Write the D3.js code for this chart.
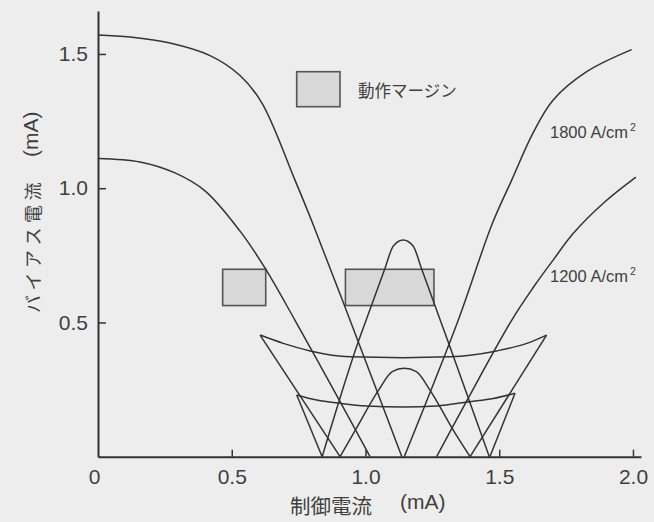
<!DOCTYPE html>
<html>
<head>
<meta charset="utf-8">
<script src="https://cdn.jsdelivr.net/npm/d3@7"></script>
<style>
  html, body { margin: 0; padding: 0; background: #ededed; }
  svg { display: block; }
</style>
</head>
<body>
<svg id="chart" width="654" height="522"></svg>
<script>
// Threshold characteristics of the gate: bias current vs. control current (mA)

const xTickValues = [0, 0.5, 1.0, 1.5, 2.0];
const yTickValues = [0.5, 1.0, 1.5];

// 1800 A/cm^2 : outer lobes and middle lobe
const lobe1800Left = [[0, 1.571], [0.12, 1.563], [0.269, 1.541], [0.419, 1.494], [0.531, 1.420],
  [0.613, 1.317], [0.736, 1.031], [0.805, 0.863], [0.973, 0.428], [1.136, 0]];
const lobe1800Right = [[1.145, 0], [1.347, 0.509], [1.472, 0.863], [1.547, 1.031], [1.626, 1.205],
  [1.701, 1.328], [1.827, 1.434], [1.995, 1.516]];
const mid1800 = [[0.838, 0], [0.973, 0.428], [1.023, 0.565], [1.073, 0.702], [1.104, 0.785],
  [1.141, 0.807], [1.178, 0.785], [1.209, 0.702], [1.259, 0.565], [1.309, 0.428], [1.463, 0]];

// 1200 A/cm^2 : outer lobes and middle lobe
const lobe1200Left = [[0, 1.111], [0.157, 1.098], [0.288, 1.057], [0.40, 0.990], [0.531, 0.840],
  [0.624, 0.703], [0.736, 0.509], [0.905, 0.205], [1.017, 0]];
const lobe1200Right = [[1.266, 0], [1.377, 0.205], [1.547, 0.509], [1.627, 0.63], [1.702, 0.733],
  [1.777, 0.832], [1.889, 0.944], [2.011, 1.041]];
const mid1200 = [[0.905, 0], [0.962, 0.099], [1.049, 0.248], [1.10, 0.317], [1.145, 0.329],
  [1.19, 0.317], [1.241, 0.248], [1.328, 0.099], [1.391, 0]];

// shallow arcs and their straight end lines
const upperArc = [[0.606, 0.453], [0.693, 0.422], [0.793, 0.394], [0.942, 0.372], [1.141, 0.369],
  [1.316, 0.372], [1.490, 0.394], [1.603, 0.422], [1.677, 0.453]];
const upperArcEnds = [[[0.606, 0.453], [0.905, 0]], [[1.677, 0.453], [1.391, 0]]];
const lowerArc = [[0.743, 0.230], [0.818, 0.211], [0.905, 0.199], [1.004, 0.189], [1.141, 0.185],
  [1.266, 0.189], [1.391, 0.205], [1.478, 0.217], [1.559, 0.236]];
const lowerArcEnds = [[[0.743, 0.230], [0.838, 0]], [[1.559, 0.236], [1.465, 0]]];

// operating margin boxes: [x0, x1, yLow, yHigh]
const marginBoxes = [[0.466, 0.627, 0.563, 0.698], [0.925, 1.256, 0.563, 0.698]];

const densityLabels = ["1800", "1200"];
const legendLabel = "動作マージン";
const xTitle = ["制御電流", "(mA)"];
const yTitle = ["バイアス電流", "(mA)"];

const ink = "#333";
const textInk = "#3f3f3f";
const latin = "'Liberation Sans', Arial, Helvetica, sans-serif";
const cjk = "'Noto Sans CJK JP', 'Noto Sans CJK SC', sans-serif";

const svg = d3.select("#chart");
svg.append("rect").attr("width", 654).attr("height", 522).attr("fill", "#ededed");

const x = d3.scaleLinear().domain([0, 2.03]).range([98, 641]);
const y = d3.scaleLinear().domain([0, 1.66]).range([456.7, 11]);

// margin boxes (drawn under the curves)
svg.append("g").selectAll("rect").data(marginBoxes).join("rect")
  .attr("x", d => x(d[0])).attr("y", d => y(d[3]))
  .attr("width", d => x(d[1]) - x(d[0])).attr("height", d => y(d[2]) - y(d[3]))
  .attr("fill", "#d8d8d8").attr("stroke", "#555").attr("stroke-width", 1.6);

const lobeLine = d3.line().x(d => x(d[0])).y(d => y(d[1])).curve(d3.curveCatmullRom.alpha(0.5));
const smooth = d3.line().x(d => x(d[0])).y(d => y(d[1])).curve(d3.curveMonotoneX);
const straight = d3.line().x(d => x(d[0])).y(d => y(d[1]));

const curves = svg.append("g").attr("fill", "none").attr("stroke", ink)
  .attr("stroke-width", 1.5).attr("stroke-linejoin", "round");
[lobe1800Left, lobe1800Right, lobe1200Left, lobe1200Right]
  .forEach(c => curves.append("path").attr("d", lobeLine(c)));
[mid1800, mid1200, upperArc, lowerArc]
  .forEach(c => curves.append("path").attr("d", smooth(c)));
[...upperArcEnds, ...lowerArcEnds].forEach(c => curves.append("path").attr("d", straight(c)));

// axes
const xAxis = d3.axisBottom(x).tickValues(xTickValues).tickSizeInner(-7).tickSizeOuter(0)
  .tickPadding(12).tickFormat(d => d === 0 ? "0" : d3.format(".1f")(d));
const yAxis = d3.axisLeft(y).tickValues(yTickValues).tickSizeInner(-8).tickSizeOuter(0)
  .tickPadding(10).tickFormat(d3.format(".1f"));

const gx = svg.append("g").attr("transform", `translate(0,${y(0)})`).call(xAxis);
const gy = svg.append("g").attr("transform", `translate(${x(0)},0)`).call(yAxis);
[gx, gy].forEach(g => {
  g.select(".domain").attr("stroke", ink).attr("stroke-width", 2);
  g.selectAll(".tick line").attr("stroke", ink).attr("stroke-width", 1.5);
  g.selectAll(".tick text").attr("fill", textInk).style("font-family", latin).style("font-size", "21px");
});
gx.selectAll(".tick").filter(d => d === 0).select("line").remove();
gx.selectAll(".tick").filter(d => d === 0).select("text").attr("dx", "-4");

// axis titles
svg.append("text").attr("x", 290).attr("y", 514).attr("fill", textInk)
  .style("font-family", cjk).style("font-size", "20.5px").text(xTitle[0]);
svg.append("text").attr("x", 400).attr("y", 509).attr("fill", textInk)
  .style("font-family", latin).style("font-size", "21px").text(xTitle[1]);

svg.append("text").attr("transform", "translate(39.5,313) rotate(-90)").attr("fill", textInk)
  .style("font-family", cjk).style("font-size", "18px").style("letter-spacing", "4.5px").text(yTitle[0]);
svg.append("text").attr("transform", "translate(38,157) rotate(-90)").attr("fill", textInk)
  .style("font-family", latin).style("font-size", "21px").text(yTitle[1]);

// current density labels
const labelPos = [[550, 138], [550, 282]];
densityLabels.forEach((t, i) => {
  const txt = svg.append("text").attr("x", labelPos[i][0]).attr("y", labelPos[i][1])
    .attr("fill", textInk).style("font-family", latin).style("font-size", "16.5px");
  txt.append("tspan").text(t + " A/cm");
  txt.append("tspan").attr("dx", 2).attr("dy", -7).style("font-size", "10.5px").text("2");
});

// legend
svg.append("rect").attr("x", 296.7).attr("y", 71.7).attr("width", 43.3).attr("height", 35)
  .attr("fill", "#d8d8d8").attr("stroke", "#555").attr("stroke-width", 1.6);
svg.append("text").attr("x", 358).attr("y", 96.5).attr("fill", textInk)
  .style("font-family", cjk).style("font-size", "16.5px").text(legendLabel);
</script>
</body>
</html>
